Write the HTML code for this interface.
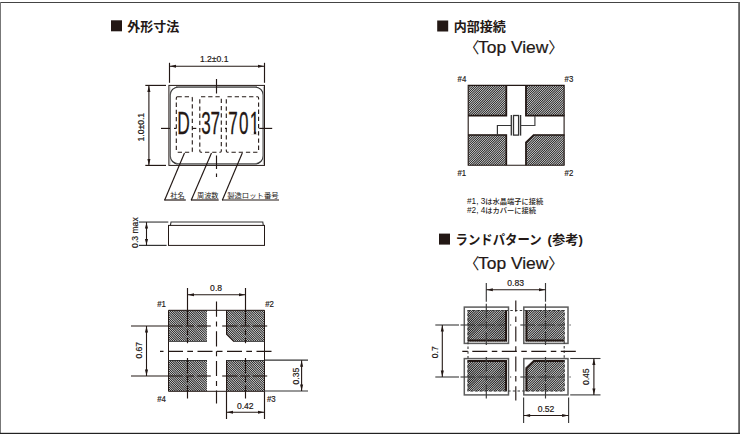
<!DOCTYPE html>
<html lang="ja"><head><meta charset="utf-8"><title>外形寸法</title>
<style>html,body{margin:0;padding:0;background:#fff;overflow:hidden}svg{display:block}text{font-kerning:normal}</style></head>
<body>
<svg width="740" height="434" viewBox="0 0 740 434"><defs><clipPath id="h1"><path d="M168 310H207V341.5H168Z"/></clipPath><clipPath id="h2"><path d="M226.3 310H265V341.5H234.0L226.3 334.0Z"/></clipPath><clipPath id="h3"><path d="M168 360H207V391.3H168Z"/></clipPath><clipPath id="h4"><path d="M226.3 360H265V391.3H226.3Z"/></clipPath><clipPath id="h5"><path d="M468 85.3H506.5V115.8H468Z"/></clipPath><clipPath id="h6"><path d="M525.5 85.3H564.5V115.8H525.5Z"/></clipPath><clipPath id="h7"><path d="M468 134.8H506.5V165.3H468Z"/></clipPath><clipPath id="h8"><path d="M533.5 134.8H564.5V165.3H525.5V142.3Z"/></clipPath><clipPath id="h9"><path d="M467.6 310H507V341.5H467.6Z"/></clipPath><clipPath id="h10"><path d="M525.5 310H564.5V341.5H525.5Z"/></clipPath><clipPath id="h11"><path d="M467.6 360H507V391.2H467.6Z"/></clipPath><clipPath id="h12"><path d="M533.5 360H564.5V391.2H525.5V367.5Z"/></clipPath></defs>
<rect x="0" y="0" width="740" height="434" fill="#fff"/>
<rect x="0" y="2" width="740" height="1" fill="#444"/>
<rect x="0" y="2" width="1" height="432" fill="#777"/>
<rect x="738.2" y="2" width="1.8" height="432" fill="#606060"/>
<rect x="0" y="432.8" width="740" height="1.2" fill="#222"/>
<rect x="111" y="20.3" width="11" height="11" fill="#231815"/>
<text x="127.3" y="31" font-family='"Liberation Sans","Noto Sans CJK JP",sans-serif' font-size="13" font-weight="bold" text-anchor="start" fill="#231815">外形寸法</text>
<rect x="437.2" y="20.5" width="11" height="11" fill="#231815"/>
<text x="453.8" y="31" font-family='"Liberation Sans","Noto Sans CJK JP",sans-serif' font-size="13" font-weight="bold" text-anchor="start" fill="#231815">内部接続</text>
<rect x="439" y="233.6" width="11" height="11" fill="#231815"/>
<text y="244" font-family='"Liberation Sans","Noto Sans CJK JP",sans-serif' font-size="13" font-weight="bold" fill="#231815"><tspan x="455.6" textLength="86" lengthAdjust="spacingAndGlyphs">ランドパターン</tspan><tspan x="543.9" textLength="39.1" lengthAdjust="spacingAndGlyphs"> (参考)</tspan></text>
<text y="52.9" font-family='"Liberation Sans","Noto Sans CJK JP",sans-serif' font-size="15.6" fill="#231815"><tspan x="463.8">〈</tspan><tspan x="478.0" textLength="70.4" lengthAdjust="spacingAndGlyphs" stroke="#231815" stroke-width="0.2">Top View</tspan><tspan x="548.2">〉</tspan></text>
<text y="268.9" font-family='"Liberation Sans","Noto Sans CJK JP",sans-serif' font-size="15.6" fill="#231815"><tspan x="463.8">〈</tspan><tspan x="478.0" textLength="70.4" lengthAdjust="spacingAndGlyphs" stroke="#231815" stroke-width="0.2">Top View</tspan><tspan x="548.2">〉</tspan></text>
<line x1="169.5" y1="62.8" x2="169.5" y2="82.8" stroke="#231815" stroke-width="1.15"/>
<line x1="264.5" y1="62.8" x2="264.5" y2="82.8" stroke="#231815" stroke-width="1.15"/>
<line x1="169.5" y1="66.3" x2="264.5" y2="66.3" stroke="#231815" stroke-width="1.1"/>
<polygon points="169.80,66.30 176.00,64.75 176.00,67.85" fill="#231815"/>
<polygon points="264.20,66.30 258.00,64.75 258.00,67.85" fill="#231815"/>
<text x="214.2" y="61.7" font-family='"Liberation Sans","Noto Sans CJK JP",sans-serif' font-size="8.6" font-weight="normal" text-anchor="middle" fill="#231815" stroke="#231815" stroke-width="0.18">1.2±0.1</text>
<line x1="145.3" y1="85.4" x2="166" y2="85.4" stroke="#231815" stroke-width="1.15"/>
<line x1="145.3" y1="165.4" x2="166" y2="165.4" stroke="#231815" stroke-width="1.15"/>
<line x1="148.9" y1="85.4" x2="148.9" y2="165.4" stroke="#231815" stroke-width="1.1"/>
<polygon points="148.90,85.70 147.35,91.90 150.45,91.90" fill="#231815"/>
<polygon points="148.90,165.10 147.35,158.90 150.45,158.90" fill="#231815"/>
<text x="144.4" y="127.2" font-family='"Liberation Sans","Noto Sans CJK JP",sans-serif' font-size="8.6" font-weight="normal" text-anchor="middle" fill="#231815" stroke="#231815" stroke-width="0.18" transform="rotate(-90 144.4 127.2)">1.0±0.1</text>
<rect x="168.9" y="85.4" width="95.6" height="80" fill="none" stroke="#231815" stroke-width="1"/>
<rect x="170.2" y="87" width="93" height="76.8" rx="8" ry="8" fill="none" stroke="#333" stroke-width="1.25"/>
<line x1="169.9" y1="86.5" x2="169.9" y2="164.5" stroke="#999" stroke-width="0.8"/>
<line x1="263.4" y1="86.5" x2="263.4" y2="164.5" stroke="#999" stroke-width="0.8"/>
<line x1="176" y1="86.6" x2="257" y2="86.6" stroke="#888" stroke-width="1.2"/>
<line x1="176" y1="164.2" x2="257" y2="164.2" stroke="#888" stroke-width="1.2"/>
<line x1="216.5" y1="79" x2="216.5" y2="93.5" stroke="#231815" stroke-width="1.15"/>
<line x1="216.5" y1="155.5" x2="216.5" y2="169" stroke="#231815" stroke-width="1.15"/>
<line x1="216.5" y1="173.5" x2="216.5" y2="177" stroke="#231815" stroke-width="1.15"/>
<line x1="161" y1="128.4" x2="170" y2="128.4" stroke="#231815" stroke-width="1.15"/>
<line x1="259.2" y1="128.4" x2="272.2" y2="128.4" stroke="#231815" stroke-width="1.15"/>
<line x1="174" y1="128.4" x2="176.3" y2="128.4" stroke="#231815" stroke-width="1.15"/>
<line x1="192" y1="128.4" x2="196.3" y2="128.4" stroke="#231815" stroke-width="1.15"/>
<line x1="225" y1="128.4" x2="227" y2="128.4" stroke="#231815" stroke-width="1.15"/>
<rect x="176.3" y="96.8" width="16.0" height="55.5" rx="1.2" fill="none" stroke="#231815" stroke-width="1.1" stroke-dasharray="4.3 2.9"/>
<rect x="199.8" y="96.8" width="21.5" height="55.5" rx="1.2" fill="none" stroke="#231815" stroke-width="1.1" stroke-dasharray="4.3 2.9"/>
<rect x="226.3" y="96.8" width="32.30000000000001" height="55.5" rx="1.2" fill="none" stroke="#231815" stroke-width="1.1" stroke-dasharray="4.3 2.9"/>
<text transform="translate(177.3 133.9) scale(0.56 1)" font-family='"Liberation Sans",sans-serif' font-size="31" letter-spacing="0" fill="#231815" stroke="#231815" stroke-width="0.3" stroke-linejoin="round">D</text>
<text transform="translate(201.2 133.9) scale(0.55 1)" font-family='"Liberation Sans",sans-serif' font-size="31" letter-spacing="-0.4" fill="#231815" stroke="#231815" stroke-width="0.3" stroke-linejoin="round">37</text>
<text transform="translate(228.2 133.9) scale(0.55 1)" font-family='"Liberation Sans",sans-serif' font-size="31" letter-spacing="2.3" fill="#231815" stroke="#231815" stroke-width="0.3" stroke-linejoin="round">701</text>
<rect x="250.2" y="130.3" width="3.6" height="4.2" fill="#fff"/>
<rect x="256.2" y="130.3" width="1.75" height="4.2" fill="#fff"/>
<line x1="184.5" y1="153" x2="164.6" y2="200.2" stroke="#231815" stroke-width="1.15"/>
<line x1="164.29999999999998" y1="200.0" x2="185.8" y2="200.0" stroke="#231815" stroke-width="1.2"/>
<line x1="211.5" y1="153" x2="191.2" y2="200.2" stroke="#231815" stroke-width="1.15"/>
<line x1="190.89999999999998" y1="200.0" x2="218.7" y2="200.0" stroke="#231815" stroke-width="1.2"/>
<line x1="242.3" y1="153" x2="222.3" y2="200.2" stroke="#231815" stroke-width="1.15"/>
<line x1="222.0" y1="200.0" x2="279" y2="200.0" stroke="#231815" stroke-width="1.2"/>
<text x="170.2" y="197.9" font-family='"Liberation Sans","Noto Sans CJK JP",sans-serif' font-size="7.2" font-weight="normal" text-anchor="start" fill="#231815" textLength="14.4" lengthAdjust="spacingAndGlyphs">社名</text>
<text x="197" y="197.9" font-family='"Liberation Sans","Noto Sans CJK JP",sans-serif' font-size="7.2" font-weight="normal" text-anchor="start" fill="#231815" textLength="21.4" lengthAdjust="spacingAndGlyphs">周波数</text>
<text x="227.2" y="197.9" font-family='"Liberation Sans","Noto Sans CJK JP",sans-serif' font-size="7.2" font-weight="normal" text-anchor="start" fill="#231815" textLength="51.4" lengthAdjust="spacingAndGlyphs">製造ロット番号</text>
<line x1="139" y1="222.05" x2="168.3" y2="222.05" stroke="#333" stroke-width="1.1"/>
<line x1="139" y1="245.4" x2="166.6" y2="245.4" stroke="#333" stroke-width="1.2"/>
<line x1="146.5" y1="222.1" x2="146.5" y2="245.4" stroke="#231815" stroke-width="1.1"/>
<polygon points="146.50,222.40 144.95,228.60 148.05,228.60" fill="#231815"/>
<polygon points="146.50,245.10 144.95,238.90 148.05,238.90" fill="#231815"/>
<text x="138.0" y="232.6" font-family='"Liberation Sans","Noto Sans CJK JP",sans-serif' font-size="8.6" font-weight="normal" text-anchor="middle" fill="#231815" stroke="#231815" stroke-width="0.18" transform="rotate(-90 138.0 232.6)">0.3 max</text>
<path d="M170.4 225.4L171 222.05H262.8L263.3 225.4" stroke="#333" stroke-width="1.1" fill="none"/>
<rect x="168.5" y="225.4" width="96" height="20" fill="none" stroke="#231815" stroke-width="1"/>
<path d="M168 310H207V341.5H168Z" fill="#fff"/>
<path d="M130.25 308.00h1.32l35.50 35.50h-1.32zM132.50 308.00h1.32l35.50 35.50h-1.32zM134.75 308.00h1.32l35.50 35.50h-1.32zM137.00 308.00h1.32l35.50 35.50h-1.32zM139.25 308.00h1.32l35.50 35.50h-1.32zM141.50 308.00h1.32l35.50 35.50h-1.32zM143.75 308.00h1.32l35.50 35.50h-1.32zM146.00 308.00h1.32l35.50 35.50h-1.32zM148.25 308.00h1.32l35.50 35.50h-1.32zM150.50 308.00h1.32l35.50 35.50h-1.32zM152.75 308.00h1.32l35.50 35.50h-1.32zM155.00 308.00h1.32l35.50 35.50h-1.32zM157.25 308.00h1.32l35.50 35.50h-1.32zM159.50 308.00h1.32l35.50 35.50h-1.32zM161.75 308.00h1.32l35.50 35.50h-1.32zM164.00 308.00h1.32l35.50 35.50h-1.32zM166.25 308.00h1.32l35.50 35.50h-1.32zM168.50 308.00h1.32l35.50 35.50h-1.32zM170.75 308.00h1.32l35.50 35.50h-1.32zM173.00 308.00h1.32l35.50 35.50h-1.32zM175.25 308.00h1.32l35.50 35.50h-1.32zM177.50 308.00h1.32l35.50 35.50h-1.32zM179.75 308.00h1.32l35.50 35.50h-1.32zM182.00 308.00h1.32l35.50 35.50h-1.32zM184.25 308.00h1.32l35.50 35.50h-1.32zM186.50 308.00h1.32l35.50 35.50h-1.32zM188.75 308.00h1.32l35.50 35.50h-1.32zM191.00 308.00h1.32l35.50 35.50h-1.32zM193.25 308.00h1.32l35.50 35.50h-1.32zM195.50 308.00h1.32l35.50 35.50h-1.32zM197.75 308.00h1.32l35.50 35.50h-1.32zM200.00 308.00h1.32l35.50 35.50h-1.32zM202.25 308.00h1.32l35.50 35.50h-1.32zM204.50 308.00h1.32l35.50 35.50h-1.32zM206.75 308.00h1.32l35.50 35.50h-1.32zM209.00 308.00h1.32l35.50 35.50h-1.32z" fill="#111" clip-path="url(#h1)"/>
<path d="M226.3 310H265V341.5H234.0L226.3 334.0Z" fill="#fff"/>
<path d="M188.55 308.00h1.32l35.50 35.50h-1.32zM190.80 308.00h1.32l35.50 35.50h-1.32zM193.05 308.00h1.32l35.50 35.50h-1.32zM195.30 308.00h1.32l35.50 35.50h-1.32zM197.55 308.00h1.32l35.50 35.50h-1.32zM199.80 308.00h1.32l35.50 35.50h-1.32zM202.05 308.00h1.32l35.50 35.50h-1.32zM204.30 308.00h1.32l35.50 35.50h-1.32zM206.55 308.00h1.32l35.50 35.50h-1.32zM208.80 308.00h1.32l35.50 35.50h-1.32zM211.05 308.00h1.32l35.50 35.50h-1.32zM213.30 308.00h1.32l35.50 35.50h-1.32zM215.55 308.00h1.32l35.50 35.50h-1.32zM217.80 308.00h1.32l35.50 35.50h-1.32zM220.05 308.00h1.32l35.50 35.50h-1.32zM222.30 308.00h1.32l35.50 35.50h-1.32zM224.55 308.00h1.32l35.50 35.50h-1.32zM226.80 308.00h1.32l35.50 35.50h-1.32zM229.05 308.00h1.32l35.50 35.50h-1.32zM231.30 308.00h1.32l35.50 35.50h-1.32zM233.55 308.00h1.32l35.50 35.50h-1.32zM235.80 308.00h1.32l35.50 35.50h-1.32zM238.05 308.00h1.32l35.50 35.50h-1.32zM240.30 308.00h1.32l35.50 35.50h-1.32zM242.55 308.00h1.32l35.50 35.50h-1.32zM244.80 308.00h1.32l35.50 35.50h-1.32zM247.05 308.00h1.32l35.50 35.50h-1.32zM249.30 308.00h1.32l35.50 35.50h-1.32zM251.55 308.00h1.32l35.50 35.50h-1.32zM253.80 308.00h1.32l35.50 35.50h-1.32zM256.05 308.00h1.32l35.50 35.50h-1.32zM258.30 308.00h1.32l35.50 35.50h-1.32zM260.55 308.00h1.32l35.50 35.50h-1.32zM262.80 308.00h1.32l35.50 35.50h-1.32zM265.05 308.00h1.32l35.50 35.50h-1.32z" fill="#111" clip-path="url(#h2)"/>
<path d="M168 360H207V391.3H168Z" fill="#fff"/>
<path d="M130.45 358.00h1.32l35.30 35.30h-1.32zM132.70 358.00h1.32l35.30 35.30h-1.32zM134.95 358.00h1.32l35.30 35.30h-1.32zM137.20 358.00h1.32l35.30 35.30h-1.32zM139.45 358.00h1.32l35.30 35.30h-1.32zM141.70 358.00h1.32l35.30 35.30h-1.32zM143.95 358.00h1.32l35.30 35.30h-1.32zM146.20 358.00h1.32l35.30 35.30h-1.32zM148.45 358.00h1.32l35.30 35.30h-1.32zM150.70 358.00h1.32l35.30 35.30h-1.32zM152.95 358.00h1.32l35.30 35.30h-1.32zM155.20 358.00h1.32l35.30 35.30h-1.32zM157.45 358.00h1.32l35.30 35.30h-1.32zM159.70 358.00h1.32l35.30 35.30h-1.32zM161.95 358.00h1.32l35.30 35.30h-1.32zM164.20 358.00h1.32l35.30 35.30h-1.32zM166.45 358.00h1.32l35.30 35.30h-1.32zM168.70 358.00h1.32l35.30 35.30h-1.32zM170.95 358.00h1.32l35.30 35.30h-1.32zM173.20 358.00h1.32l35.30 35.30h-1.32zM175.45 358.00h1.32l35.30 35.30h-1.32zM177.70 358.00h1.32l35.30 35.30h-1.32zM179.95 358.00h1.32l35.30 35.30h-1.32zM182.20 358.00h1.32l35.30 35.30h-1.32zM184.45 358.00h1.32l35.30 35.30h-1.32zM186.70 358.00h1.32l35.30 35.30h-1.32zM188.95 358.00h1.32l35.30 35.30h-1.32zM191.20 358.00h1.32l35.30 35.30h-1.32zM193.45 358.00h1.32l35.30 35.30h-1.32zM195.70 358.00h1.32l35.30 35.30h-1.32zM197.95 358.00h1.32l35.30 35.30h-1.32zM200.20 358.00h1.32l35.30 35.30h-1.32zM202.45 358.00h1.32l35.30 35.30h-1.32zM204.70 358.00h1.32l35.30 35.30h-1.32zM206.95 358.00h1.32l35.30 35.30h-1.32zM209.20 358.00h1.32l35.30 35.30h-1.32z" fill="#111" clip-path="url(#h3)"/>
<path d="M226.3 360H265V391.3H226.3Z" fill="#fff"/>
<path d="M188.75 358.00h1.32l35.30 35.30h-1.32zM191.00 358.00h1.32l35.30 35.30h-1.32zM193.25 358.00h1.32l35.30 35.30h-1.32zM195.50 358.00h1.32l35.30 35.30h-1.32zM197.75 358.00h1.32l35.30 35.30h-1.32zM200.00 358.00h1.32l35.30 35.30h-1.32zM202.25 358.00h1.32l35.30 35.30h-1.32zM204.50 358.00h1.32l35.30 35.30h-1.32zM206.75 358.00h1.32l35.30 35.30h-1.32zM209.00 358.00h1.32l35.30 35.30h-1.32zM211.25 358.00h1.32l35.30 35.30h-1.32zM213.50 358.00h1.32l35.30 35.30h-1.32zM215.75 358.00h1.32l35.30 35.30h-1.32zM218.00 358.00h1.32l35.30 35.30h-1.32zM220.25 358.00h1.32l35.30 35.30h-1.32zM222.50 358.00h1.32l35.30 35.30h-1.32zM224.75 358.00h1.32l35.30 35.30h-1.32zM227.00 358.00h1.32l35.30 35.30h-1.32zM229.25 358.00h1.32l35.30 35.30h-1.32zM231.50 358.00h1.32l35.30 35.30h-1.32zM233.75 358.00h1.32l35.30 35.30h-1.32zM236.00 358.00h1.32l35.30 35.30h-1.32zM238.25 358.00h1.32l35.30 35.30h-1.32zM240.50 358.00h1.32l35.30 35.30h-1.32zM242.75 358.00h1.32l35.30 35.30h-1.32zM245.00 358.00h1.32l35.30 35.30h-1.32zM247.25 358.00h1.32l35.30 35.30h-1.32zM249.50 358.00h1.32l35.30 35.30h-1.32zM251.75 358.00h1.32l35.30 35.30h-1.32zM254.00 358.00h1.32l35.30 35.30h-1.32zM256.25 358.00h1.32l35.30 35.30h-1.32zM258.50 358.00h1.32l35.30 35.30h-1.32zM260.75 358.00h1.32l35.30 35.30h-1.32zM263.00 358.00h1.32l35.30 35.30h-1.32zM265.25 358.00h1.32l35.30 35.30h-1.32z" fill="#111" clip-path="url(#h4)"/>
<path d="M168.5 310.3H264.5V391.3H168.5Z" stroke="#231815" stroke-width="1" fill="none"/>
<path d="M226.6 310.3V334.2L234 341.6" stroke="#231815" stroke-width="1.2" fill="none"/>
<line x1="226.6" y1="360" x2="226.6" y2="391.3" stroke="#231815" stroke-width="1.2"/>
<line x1="168" y1="341.5" x2="207" y2="341.5" stroke="#333" stroke-width="0.8"/>
<line x1="234" y1="341.5" x2="264.5" y2="341.5" stroke="#333" stroke-width="0.8"/>
<line x1="168" y1="360.5" x2="207" y2="360.5" stroke="#333" stroke-width="1"/>
<line x1="226.3" y1="360.5" x2="264.5" y2="360.5" stroke="#333" stroke-width="1"/>
<line x1="265" y1="360.15" x2="308" y2="360.15" stroke="#333" stroke-width="1.2"/>
<line x1="187.5" y1="288" x2="187.5" y2="325.5" stroke="#231815" stroke-width="1.15"/>
<line x1="187.5" y1="329.5" x2="187.5" y2="335" stroke="#231815" stroke-width="1.15"/>
<line x1="187.5" y1="338" x2="187.5" y2="343.2" stroke="#231815" stroke-width="1.15"/>
<line x1="187.5" y1="358" x2="187.5" y2="373.5" stroke="#231815" stroke-width="1.15"/>
<line x1="187.5" y1="376.5" x2="187.5" y2="382.5" stroke="#231815" stroke-width="1.15"/>
<line x1="187.5" y1="385.5" x2="187.5" y2="398.5" stroke="#231815" stroke-width="1.15"/>
<line x1="245.5" y1="288" x2="245.5" y2="325.5" stroke="#231815" stroke-width="1.15"/>
<line x1="245.5" y1="329.5" x2="245.5" y2="335" stroke="#231815" stroke-width="1.15"/>
<line x1="245.5" y1="338" x2="245.5" y2="343.2" stroke="#231815" stroke-width="1.15"/>
<line x1="245.5" y1="358" x2="245.5" y2="373.5" stroke="#231815" stroke-width="1.15"/>
<line x1="245.5" y1="376.5" x2="245.5" y2="382.5" stroke="#231815" stroke-width="1.15"/>
<line x1="245.5" y1="385.5" x2="245.5" y2="398.5" stroke="#231815" stroke-width="1.15"/>
<line x1="187.5" y1="294.8" x2="245.5" y2="294.8" stroke="#231815" stroke-width="1.1"/>
<polygon points="187.80,294.80 194.00,293.25 194.00,296.35" fill="#231815"/>
<polygon points="245.20,294.80 239.00,293.25 239.00,296.35" fill="#231815"/>
<text x="216.1" y="291" font-family='"Liberation Sans","Noto Sans CJK JP",sans-serif' font-size="8.6" font-weight="normal" text-anchor="middle" fill="#231815" stroke="#231815" stroke-width="0.18">0.8</text>
<line x1="216.5" y1="301.5" x2="216.5" y2="403.5" stroke="#231815" stroke-width="1.15" stroke-dasharray="15.2 4.8 5 4.7"/>
<line x1="160" y1="351.4" x2="271.7" y2="351.4" stroke="#231815" stroke-width="1.15" stroke-dasharray="15 4.3 5.7 4.5" stroke-dashoffset="21.5"/>
<line x1="131" y1="326.0" x2="182.8" y2="326.0" stroke="#231815" stroke-width="1.1"/>
<line x1="185.6" y1="326.0" x2="193.9" y2="326.0" stroke="#231815" stroke-width="1.1"/>
<line x1="197.3" y1="326.0" x2="210.8" y2="326.0" stroke="#231815" stroke-width="1.1"/>
<line x1="222.2" y1="326.0" x2="237.4" y2="326.0" stroke="#231815" stroke-width="1.1"/>
<line x1="240.2" y1="326.0" x2="249.8" y2="326.0" stroke="#231815" stroke-width="1.1"/>
<line x1="252.6" y1="326.0" x2="267.2" y2="326.0" stroke="#231815" stroke-width="1.1"/>
<line x1="131" y1="376.0" x2="182.8" y2="376.0" stroke="#231815" stroke-width="1.1"/>
<line x1="185.6" y1="376.0" x2="193.9" y2="376.0" stroke="#231815" stroke-width="1.1"/>
<line x1="197.3" y1="376.0" x2="210.8" y2="376.0" stroke="#231815" stroke-width="1.1"/>
<line x1="222.2" y1="376.0" x2="237.4" y2="376.0" stroke="#231815" stroke-width="1.1"/>
<line x1="240.2" y1="376.0" x2="249.8" y2="376.0" stroke="#231815" stroke-width="1.1"/>
<line x1="252.6" y1="376.0" x2="267.2" y2="376.0" stroke="#231815" stroke-width="1.1"/>
<line x1="146.5" y1="326" x2="146.5" y2="376" stroke="#231815" stroke-width="1.1"/>
<polygon points="146.50,326.30 144.95,332.50 148.05,332.50" fill="#231815"/>
<polygon points="146.50,375.70 144.95,369.50 148.05,369.50" fill="#231815"/>
<text x="142" y="350.2" font-family='"Liberation Sans","Noto Sans CJK JP",sans-serif' font-size="8.6" font-weight="normal" text-anchor="middle" fill="#231815" stroke="#231815" stroke-width="0.18" transform="rotate(-90 142 350.2)">0.67</text>
<line x1="264.5" y1="391.0" x2="308" y2="391.0" stroke="#333" stroke-width="1.2"/>
<line x1="301.6" y1="360.2" x2="301.6" y2="391.0" stroke="#231815" stroke-width="1.1"/>
<polygon points="301.60,360.50 300.05,366.70 303.15,366.70" fill="#231815"/>
<polygon points="301.60,390.70 300.05,384.50 303.15,384.50" fill="#231815"/>
<text x="298.6" y="376.1" font-family='"Liberation Sans","Noto Sans CJK JP",sans-serif' font-size="8.6" font-weight="normal" text-anchor="middle" fill="#231815" stroke="#231815" stroke-width="0.18" transform="rotate(-90 298.6 376.1)">0.35</text>
<line x1="226.5" y1="391.3" x2="226.5" y2="419" stroke="#231815" stroke-width="1.15"/>
<line x1="264.5" y1="391.3" x2="264.5" y2="419" stroke="#231815" stroke-width="1.15"/>
<line x1="226.5" y1="412.3" x2="264.5" y2="412.3" stroke="#231815" stroke-width="1.1"/>
<polygon points="226.80,412.30 233.00,410.75 233.00,413.85" fill="#231815"/>
<polygon points="264.20,412.30 258.00,410.75 258.00,413.85" fill="#231815"/>
<text x="245.3" y="408.7" font-family='"Liberation Sans","Noto Sans CJK JP",sans-serif' font-size="8.6" font-weight="normal" text-anchor="middle" fill="#231815" stroke="#231815" stroke-width="0.18">0.42</text>
<text x="157.2" y="306.9" font-family='"Liberation Sans","Noto Sans CJK JP",sans-serif' font-size="8.6" font-weight="normal" text-anchor="start" fill="#231815" stroke="#231815" stroke-width="0.18" textLength="8.7" lengthAdjust="spacingAndGlyphs">#1</text>
<text x="265.2" y="306.9" font-family='"Liberation Sans","Noto Sans CJK JP",sans-serif' font-size="8.6" font-weight="normal" text-anchor="start" fill="#231815" stroke="#231815" stroke-width="0.18" textLength="8.7" lengthAdjust="spacingAndGlyphs">#2</text>
<text x="157.2" y="401.8" font-family='"Liberation Sans","Noto Sans CJK JP",sans-serif' font-size="8.6" font-weight="normal" text-anchor="start" fill="#231815" stroke="#231815" stroke-width="0.18" textLength="8.7" lengthAdjust="spacingAndGlyphs">#4</text>
<text x="266.9" y="401.8" font-family='"Liberation Sans","Noto Sans CJK JP",sans-serif' font-size="8.6" font-weight="normal" text-anchor="start" fill="#231815" stroke="#231815" stroke-width="0.18" textLength="8.7" lengthAdjust="spacingAndGlyphs">#3</text>
<path d="M468 85.3H506.5V115.8H468Z" fill="#fff"/>
<path d="M465.75 83.30h1.32l-34.50 34.50h-1.32zM468.00 83.30h1.32l-34.50 34.50h-1.32zM470.25 83.30h1.32l-34.50 34.50h-1.32zM472.50 83.30h1.32l-34.50 34.50h-1.32zM474.75 83.30h1.32l-34.50 34.50h-1.32zM477.00 83.30h1.32l-34.50 34.50h-1.32zM479.25 83.30h1.32l-34.50 34.50h-1.32zM481.50 83.30h1.32l-34.50 34.50h-1.32zM483.75 83.30h1.32l-34.50 34.50h-1.32zM486.00 83.30h1.32l-34.50 34.50h-1.32zM488.25 83.30h1.32l-34.50 34.50h-1.32zM490.50 83.30h1.32l-34.50 34.50h-1.32zM492.75 83.30h1.32l-34.50 34.50h-1.32zM495.00 83.30h1.32l-34.50 34.50h-1.32zM497.25 83.30h1.32l-34.50 34.50h-1.32zM499.50 83.30h1.32l-34.50 34.50h-1.32zM501.75 83.30h1.32l-34.50 34.50h-1.32zM504.00 83.30h1.32l-34.50 34.50h-1.32zM506.25 83.30h1.32l-34.50 34.50h-1.32zM508.50 83.30h1.32l-34.50 34.50h-1.32zM510.75 83.30h1.32l-34.50 34.50h-1.32zM513.00 83.30h1.32l-34.50 34.50h-1.32zM515.25 83.30h1.32l-34.50 34.50h-1.32zM517.50 83.30h1.32l-34.50 34.50h-1.32zM519.75 83.30h1.32l-34.50 34.50h-1.32zM522.00 83.30h1.32l-34.50 34.50h-1.32zM524.25 83.30h1.32l-34.50 34.50h-1.32zM526.50 83.30h1.32l-34.50 34.50h-1.32zM528.75 83.30h1.32l-34.50 34.50h-1.32zM531.00 83.30h1.32l-34.50 34.50h-1.32zM533.25 83.30h1.32l-34.50 34.50h-1.32zM535.50 83.30h1.32l-34.50 34.50h-1.32zM537.75 83.30h1.32l-34.50 34.50h-1.32zM540.00 83.30h1.32l-34.50 34.50h-1.32zM542.25 83.30h1.32l-34.50 34.50h-1.32z" fill="#111" clip-path="url(#h5)"/>
<path d="M525.5 85.3H564.5V115.8H525.5Z" fill="#fff"/>
<path d="M523.25 83.30h1.32l-34.50 34.50h-1.32zM525.50 83.30h1.32l-34.50 34.50h-1.32zM527.75 83.30h1.32l-34.50 34.50h-1.32zM530.00 83.30h1.32l-34.50 34.50h-1.32zM532.25 83.30h1.32l-34.50 34.50h-1.32zM534.50 83.30h1.32l-34.50 34.50h-1.32zM536.75 83.30h1.32l-34.50 34.50h-1.32zM539.00 83.30h1.32l-34.50 34.50h-1.32zM541.25 83.30h1.32l-34.50 34.50h-1.32zM543.50 83.30h1.32l-34.50 34.50h-1.32zM545.75 83.30h1.32l-34.50 34.50h-1.32zM548.00 83.30h1.32l-34.50 34.50h-1.32zM550.25 83.30h1.32l-34.50 34.50h-1.32zM552.50 83.30h1.32l-34.50 34.50h-1.32zM554.75 83.30h1.32l-34.50 34.50h-1.32zM557.00 83.30h1.32l-34.50 34.50h-1.32zM559.25 83.30h1.32l-34.50 34.50h-1.32zM561.50 83.30h1.32l-34.50 34.50h-1.32zM563.75 83.30h1.32l-34.50 34.50h-1.32zM566.00 83.30h1.32l-34.50 34.50h-1.32zM568.25 83.30h1.32l-34.50 34.50h-1.32zM570.50 83.30h1.32l-34.50 34.50h-1.32zM572.75 83.30h1.32l-34.50 34.50h-1.32zM575.00 83.30h1.32l-34.50 34.50h-1.32zM577.25 83.30h1.32l-34.50 34.50h-1.32zM579.50 83.30h1.32l-34.50 34.50h-1.32zM581.75 83.30h1.32l-34.50 34.50h-1.32zM584.00 83.30h1.32l-34.50 34.50h-1.32zM586.25 83.30h1.32l-34.50 34.50h-1.32zM588.50 83.30h1.32l-34.50 34.50h-1.32zM590.75 83.30h1.32l-34.50 34.50h-1.32zM593.00 83.30h1.32l-34.50 34.50h-1.32zM595.25 83.30h1.32l-34.50 34.50h-1.32zM597.50 83.30h1.32l-34.50 34.50h-1.32zM599.75 83.30h1.32l-34.50 34.50h-1.32z" fill="#111" clip-path="url(#h6)"/>
<path d="M468 134.8H506.5V165.3H468Z" fill="#fff"/>
<path d="M465.75 132.80h1.32l-34.50 34.50h-1.32zM468.00 132.80h1.32l-34.50 34.50h-1.32zM470.25 132.80h1.32l-34.50 34.50h-1.32zM472.50 132.80h1.32l-34.50 34.50h-1.32zM474.75 132.80h1.32l-34.50 34.50h-1.32zM477.00 132.80h1.32l-34.50 34.50h-1.32zM479.25 132.80h1.32l-34.50 34.50h-1.32zM481.50 132.80h1.32l-34.50 34.50h-1.32zM483.75 132.80h1.32l-34.50 34.50h-1.32zM486.00 132.80h1.32l-34.50 34.50h-1.32zM488.25 132.80h1.32l-34.50 34.50h-1.32zM490.50 132.80h1.32l-34.50 34.50h-1.32zM492.75 132.80h1.32l-34.50 34.50h-1.32zM495.00 132.80h1.32l-34.50 34.50h-1.32zM497.25 132.80h1.32l-34.50 34.50h-1.32zM499.50 132.80h1.32l-34.50 34.50h-1.32zM501.75 132.80h1.32l-34.50 34.50h-1.32zM504.00 132.80h1.32l-34.50 34.50h-1.32zM506.25 132.80h1.32l-34.50 34.50h-1.32zM508.50 132.80h1.32l-34.50 34.50h-1.32zM510.75 132.80h1.32l-34.50 34.50h-1.32zM513.00 132.80h1.32l-34.50 34.50h-1.32zM515.25 132.80h1.32l-34.50 34.50h-1.32zM517.50 132.80h1.32l-34.50 34.50h-1.32zM519.75 132.80h1.32l-34.50 34.50h-1.32zM522.00 132.80h1.32l-34.50 34.50h-1.32zM524.25 132.80h1.32l-34.50 34.50h-1.32zM526.50 132.80h1.32l-34.50 34.50h-1.32zM528.75 132.80h1.32l-34.50 34.50h-1.32zM531.00 132.80h1.32l-34.50 34.50h-1.32zM533.25 132.80h1.32l-34.50 34.50h-1.32zM535.50 132.80h1.32l-34.50 34.50h-1.32zM537.75 132.80h1.32l-34.50 34.50h-1.32zM540.00 132.80h1.32l-34.50 34.50h-1.32zM542.25 132.80h1.32l-34.50 34.50h-1.32z" fill="#111" clip-path="url(#h7)"/>
<path d="M533.5 134.8H564.5V165.3H525.5V142.3Z" fill="#fff"/>
<path d="M523.25 132.80h1.32l-34.50 34.50h-1.32zM525.50 132.80h1.32l-34.50 34.50h-1.32zM527.75 132.80h1.32l-34.50 34.50h-1.32zM530.00 132.80h1.32l-34.50 34.50h-1.32zM532.25 132.80h1.32l-34.50 34.50h-1.32zM534.50 132.80h1.32l-34.50 34.50h-1.32zM536.75 132.80h1.32l-34.50 34.50h-1.32zM539.00 132.80h1.32l-34.50 34.50h-1.32zM541.25 132.80h1.32l-34.50 34.50h-1.32zM543.50 132.80h1.32l-34.50 34.50h-1.32zM545.75 132.80h1.32l-34.50 34.50h-1.32zM548.00 132.80h1.32l-34.50 34.50h-1.32zM550.25 132.80h1.32l-34.50 34.50h-1.32zM552.50 132.80h1.32l-34.50 34.50h-1.32zM554.75 132.80h1.32l-34.50 34.50h-1.32zM557.00 132.80h1.32l-34.50 34.50h-1.32zM559.25 132.80h1.32l-34.50 34.50h-1.32zM561.50 132.80h1.32l-34.50 34.50h-1.32zM563.75 132.80h1.32l-34.50 34.50h-1.32zM566.00 132.80h1.32l-34.50 34.50h-1.32zM568.25 132.80h1.32l-34.50 34.50h-1.32zM570.50 132.80h1.32l-34.50 34.50h-1.32zM572.75 132.80h1.32l-34.50 34.50h-1.32zM575.00 132.80h1.32l-34.50 34.50h-1.32zM577.25 132.80h1.32l-34.50 34.50h-1.32zM579.50 132.80h1.32l-34.50 34.50h-1.32zM581.75 132.80h1.32l-34.50 34.50h-1.32zM584.00 132.80h1.32l-34.50 34.50h-1.32zM586.25 132.80h1.32l-34.50 34.50h-1.32zM588.50 132.80h1.32l-34.50 34.50h-1.32zM590.75 132.80h1.32l-34.50 34.50h-1.32zM593.00 132.80h1.32l-34.50 34.50h-1.32zM595.25 132.80h1.32l-34.50 34.50h-1.32zM597.50 132.80h1.32l-34.50 34.50h-1.32zM599.75 132.80h1.32l-34.50 34.50h-1.32z" fill="#111" clip-path="url(#h8)"/>
<path d="M468.2 85.4H564.1V165.3H468.2Z" stroke="#231815" stroke-width="1.1" fill="none"/>
<path d="M468 115.6H506.3V85.4" stroke="#231815" stroke-width="1.8" fill="none"/>
<path d="M564.5 115.6H526V85.4" stroke="#231815" stroke-width="1.8" fill="none"/>
<path d="M468 135H506.3V165.3" stroke="#231815" stroke-width="1.7" fill="none"/>
<path d="M564.5 135H533.6L526 142.3V165.3" stroke="#231815" stroke-width="1.7" fill="none"/>
<path d="M497.4 134.5V125.5H511.3" stroke="#333" stroke-width="1.2" fill="none"/>
<line x1="511.3" y1="115" x2="511.3" y2="135.6" stroke="#333" stroke-width="1.3"/>
<line x1="520.6" y1="115" x2="520.6" y2="135.6" stroke="#333" stroke-width="1.3"/>
<rect x="513.5" y="115.5" width="5.1" height="19.6" fill="none" stroke="#333" stroke-width="1.3"/>
<path d="M520.6 125.5H534.9V116" stroke="#444" stroke-width="1.2" fill="none"/>
<text x="457.6" y="81.7" font-family='"Liberation Sans","Noto Sans CJK JP",sans-serif' font-size="8.6" font-weight="normal" text-anchor="start" fill="#231815" stroke="#231815" stroke-width="0.18" textLength="8.7" lengthAdjust="spacingAndGlyphs">#4</text>
<text x="564.6" y="81.7" font-family='"Liberation Sans","Noto Sans CJK JP",sans-serif' font-size="8.6" font-weight="normal" text-anchor="start" fill="#231815" stroke="#231815" stroke-width="0.18" textLength="8.7" lengthAdjust="spacingAndGlyphs">#3</text>
<text x="457.4" y="175.7" font-family='"Liberation Sans","Noto Sans CJK JP",sans-serif' font-size="8.6" font-weight="normal" text-anchor="start" fill="#231815" stroke="#231815" stroke-width="0.18" textLength="8.7" lengthAdjust="spacingAndGlyphs">#1</text>
<text x="564.6" y="175.7" font-family='"Liberation Sans","Noto Sans CJK JP",sans-serif' font-size="8.6" font-weight="normal" text-anchor="start" fill="#231815" stroke="#231815" stroke-width="0.18" textLength="8.7" lengthAdjust="spacingAndGlyphs">#2</text>
<text x="467" y="204.2" font-family='"Liberation Sans","Noto Sans CJK JP",sans-serif' fill="#231815" font-weight="500"><tspan font-size="8.8" textLength="18.4" lengthAdjust="spacingAndGlyphs">#1, 3</tspan><tspan x="485.3" font-size="7.3" textLength="58.0" lengthAdjust="spacingAndGlyphs">は水晶端子に接続</tspan></text>
<text x="467" y="213.2" font-family='"Liberation Sans","Noto Sans CJK JP",sans-serif' fill="#231815" font-weight="500"><tspan font-size="8.8" textLength="18.4" lengthAdjust="spacingAndGlyphs">#2, 4</tspan><tspan x="485.3" font-size="7.3" textLength="50.8" lengthAdjust="spacingAndGlyphs">はカバーに接続</tspan></text>
<path d="M467.6 310H507V341.5H467.6Z" fill="#fff"/>
<path d="M465.35 308.00h1.32l-35.50 35.50h-1.32zM467.60 308.00h1.32l-35.50 35.50h-1.32zM469.85 308.00h1.32l-35.50 35.50h-1.32zM472.10 308.00h1.32l-35.50 35.50h-1.32zM474.35 308.00h1.32l-35.50 35.50h-1.32zM476.60 308.00h1.32l-35.50 35.50h-1.32zM478.85 308.00h1.32l-35.50 35.50h-1.32zM481.10 308.00h1.32l-35.50 35.50h-1.32zM483.35 308.00h1.32l-35.50 35.50h-1.32zM485.60 308.00h1.32l-35.50 35.50h-1.32zM487.85 308.00h1.32l-35.50 35.50h-1.32zM490.10 308.00h1.32l-35.50 35.50h-1.32zM492.35 308.00h1.32l-35.50 35.50h-1.32zM494.60 308.00h1.32l-35.50 35.50h-1.32zM496.85 308.00h1.32l-35.50 35.50h-1.32zM499.10 308.00h1.32l-35.50 35.50h-1.32zM501.35 308.00h1.32l-35.50 35.50h-1.32zM503.60 308.00h1.32l-35.50 35.50h-1.32zM505.85 308.00h1.32l-35.50 35.50h-1.32zM508.10 308.00h1.32l-35.50 35.50h-1.32zM510.35 308.00h1.32l-35.50 35.50h-1.32zM512.60 308.00h1.32l-35.50 35.50h-1.32zM514.85 308.00h1.32l-35.50 35.50h-1.32zM517.10 308.00h1.32l-35.50 35.50h-1.32zM519.35 308.00h1.32l-35.50 35.50h-1.32zM521.60 308.00h1.32l-35.50 35.50h-1.32zM523.85 308.00h1.32l-35.50 35.50h-1.32zM526.10 308.00h1.32l-35.50 35.50h-1.32zM528.35 308.00h1.32l-35.50 35.50h-1.32zM530.60 308.00h1.32l-35.50 35.50h-1.32zM532.85 308.00h1.32l-35.50 35.50h-1.32zM535.10 308.00h1.32l-35.50 35.50h-1.32zM537.35 308.00h1.32l-35.50 35.50h-1.32zM539.60 308.00h1.32l-35.50 35.50h-1.32zM541.85 308.00h1.32l-35.50 35.50h-1.32zM544.10 308.00h1.32l-35.50 35.50h-1.32z" fill="#111" clip-path="url(#h9)"/>
<path d="M525.5 310H564.5V341.5H525.5Z" fill="#fff"/>
<path d="M523.25 308.00h1.32l-35.50 35.50h-1.32zM525.50 308.00h1.32l-35.50 35.50h-1.32zM527.75 308.00h1.32l-35.50 35.50h-1.32zM530.00 308.00h1.32l-35.50 35.50h-1.32zM532.25 308.00h1.32l-35.50 35.50h-1.32zM534.50 308.00h1.32l-35.50 35.50h-1.32zM536.75 308.00h1.32l-35.50 35.50h-1.32zM539.00 308.00h1.32l-35.50 35.50h-1.32zM541.25 308.00h1.32l-35.50 35.50h-1.32zM543.50 308.00h1.32l-35.50 35.50h-1.32zM545.75 308.00h1.32l-35.50 35.50h-1.32zM548.00 308.00h1.32l-35.50 35.50h-1.32zM550.25 308.00h1.32l-35.50 35.50h-1.32zM552.50 308.00h1.32l-35.50 35.50h-1.32zM554.75 308.00h1.32l-35.50 35.50h-1.32zM557.00 308.00h1.32l-35.50 35.50h-1.32zM559.25 308.00h1.32l-35.50 35.50h-1.32zM561.50 308.00h1.32l-35.50 35.50h-1.32zM563.75 308.00h1.32l-35.50 35.50h-1.32zM566.00 308.00h1.32l-35.50 35.50h-1.32zM568.25 308.00h1.32l-35.50 35.50h-1.32zM570.50 308.00h1.32l-35.50 35.50h-1.32zM572.75 308.00h1.32l-35.50 35.50h-1.32zM575.00 308.00h1.32l-35.50 35.50h-1.32zM577.25 308.00h1.32l-35.50 35.50h-1.32zM579.50 308.00h1.32l-35.50 35.50h-1.32zM581.75 308.00h1.32l-35.50 35.50h-1.32zM584.00 308.00h1.32l-35.50 35.50h-1.32zM586.25 308.00h1.32l-35.50 35.50h-1.32zM588.50 308.00h1.32l-35.50 35.50h-1.32zM590.75 308.00h1.32l-35.50 35.50h-1.32zM593.00 308.00h1.32l-35.50 35.50h-1.32zM595.25 308.00h1.32l-35.50 35.50h-1.32zM597.50 308.00h1.32l-35.50 35.50h-1.32zM599.75 308.00h1.32l-35.50 35.50h-1.32zM602.00 308.00h1.32l-35.50 35.50h-1.32z" fill="#111" clip-path="url(#h10)"/>
<path d="M467.6 360H507V391.2H467.6Z" fill="#fff"/>
<path d="M465.35 358.00h1.32l-35.20 35.20h-1.32zM467.60 358.00h1.32l-35.20 35.20h-1.32zM469.85 358.00h1.32l-35.20 35.20h-1.32zM472.10 358.00h1.32l-35.20 35.20h-1.32zM474.35 358.00h1.32l-35.20 35.20h-1.32zM476.60 358.00h1.32l-35.20 35.20h-1.32zM478.85 358.00h1.32l-35.20 35.20h-1.32zM481.10 358.00h1.32l-35.20 35.20h-1.32zM483.35 358.00h1.32l-35.20 35.20h-1.32zM485.60 358.00h1.32l-35.20 35.20h-1.32zM487.85 358.00h1.32l-35.20 35.20h-1.32zM490.10 358.00h1.32l-35.20 35.20h-1.32zM492.35 358.00h1.32l-35.20 35.20h-1.32zM494.60 358.00h1.32l-35.20 35.20h-1.32zM496.85 358.00h1.32l-35.20 35.20h-1.32zM499.10 358.00h1.32l-35.20 35.20h-1.32zM501.35 358.00h1.32l-35.20 35.20h-1.32zM503.60 358.00h1.32l-35.20 35.20h-1.32zM505.85 358.00h1.32l-35.20 35.20h-1.32zM508.10 358.00h1.32l-35.20 35.20h-1.32zM510.35 358.00h1.32l-35.20 35.20h-1.32zM512.60 358.00h1.32l-35.20 35.20h-1.32zM514.85 358.00h1.32l-35.20 35.20h-1.32zM517.10 358.00h1.32l-35.20 35.20h-1.32zM519.35 358.00h1.32l-35.20 35.20h-1.32zM521.60 358.00h1.32l-35.20 35.20h-1.32zM523.85 358.00h1.32l-35.20 35.20h-1.32zM526.10 358.00h1.32l-35.20 35.20h-1.32zM528.35 358.00h1.32l-35.20 35.20h-1.32zM530.60 358.00h1.32l-35.20 35.20h-1.32zM532.85 358.00h1.32l-35.20 35.20h-1.32zM535.10 358.00h1.32l-35.20 35.20h-1.32zM537.35 358.00h1.32l-35.20 35.20h-1.32zM539.60 358.00h1.32l-35.20 35.20h-1.32zM541.85 358.00h1.32l-35.20 35.20h-1.32zM544.10 358.00h1.32l-35.20 35.20h-1.32z" fill="#111" clip-path="url(#h11)"/>
<path d="M533.5 360H564.5V391.2H525.5V367.5Z" fill="#fff"/>
<path d="M523.25 358.00h1.32l-35.20 35.20h-1.32zM525.50 358.00h1.32l-35.20 35.20h-1.32zM527.75 358.00h1.32l-35.20 35.20h-1.32zM530.00 358.00h1.32l-35.20 35.20h-1.32zM532.25 358.00h1.32l-35.20 35.20h-1.32zM534.50 358.00h1.32l-35.20 35.20h-1.32zM536.75 358.00h1.32l-35.20 35.20h-1.32zM539.00 358.00h1.32l-35.20 35.20h-1.32zM541.25 358.00h1.32l-35.20 35.20h-1.32zM543.50 358.00h1.32l-35.20 35.20h-1.32zM545.75 358.00h1.32l-35.20 35.20h-1.32zM548.00 358.00h1.32l-35.20 35.20h-1.32zM550.25 358.00h1.32l-35.20 35.20h-1.32zM552.50 358.00h1.32l-35.20 35.20h-1.32zM554.75 358.00h1.32l-35.20 35.20h-1.32zM557.00 358.00h1.32l-35.20 35.20h-1.32zM559.25 358.00h1.32l-35.20 35.20h-1.32zM561.50 358.00h1.32l-35.20 35.20h-1.32zM563.75 358.00h1.32l-35.20 35.20h-1.32zM566.00 358.00h1.32l-35.20 35.20h-1.32zM568.25 358.00h1.32l-35.20 35.20h-1.32zM570.50 358.00h1.32l-35.20 35.20h-1.32zM572.75 358.00h1.32l-35.20 35.20h-1.32zM575.00 358.00h1.32l-35.20 35.20h-1.32zM577.25 358.00h1.32l-35.20 35.20h-1.32zM579.50 358.00h1.32l-35.20 35.20h-1.32zM581.75 358.00h1.32l-35.20 35.20h-1.32zM584.00 358.00h1.32l-35.20 35.20h-1.32zM586.25 358.00h1.32l-35.20 35.20h-1.32zM588.50 358.00h1.32l-35.20 35.20h-1.32zM590.75 358.00h1.32l-35.20 35.20h-1.32zM593.00 358.00h1.32l-35.20 35.20h-1.32zM595.25 358.00h1.32l-35.20 35.20h-1.32zM597.50 358.00h1.32l-35.20 35.20h-1.32zM599.75 358.00h1.32l-35.20 35.20h-1.32z" fill="#111" clip-path="url(#h12)"/>
<rect x="464.3" y="307.1" width="44.2" height="36.3" fill="none" stroke="#5c5c5c" stroke-width="1.5"/>
<rect x="523.8" y="307.1" width="44.2" height="36.3" fill="none" stroke="#5c5c5c" stroke-width="1.5"/>
<rect x="464.3" y="358.6" width="44.2" height="36.3" fill="none" stroke="#5c5c5c" stroke-width="1.5"/>
<rect x="523.8" y="358.6" width="44.2" height="36.3" fill="none" stroke="#5c5c5c" stroke-width="1.5"/>
<path d="M506 310V340.6H467.6" stroke="#231815" stroke-width="2" fill="none"/>
<path d="M526.5 310V340.6H564.5" stroke="#231815" stroke-width="2" fill="none"/>
<path d="M467.6 361H506V391.2" stroke="#231815" stroke-width="2" fill="none"/>
<path d="M564.5 361H534L526.5 368.3V391.2" stroke="#231815" stroke-width="2" fill="none"/>
<path d="M468 310.5H564.2V391H468Z" stroke="#3a3a3a" stroke-width="1.1" fill="none" stroke-dasharray="2.5 2.2"/>
<line x1="486.3" y1="283" x2="486.3" y2="301.7" stroke="#3a3a3a" stroke-width="1.15"/>
<line x1="486.3" y1="303.7" x2="486.3" y2="318" stroke="#3a3a3a" stroke-width="1.15"/>
<line x1="486.3" y1="321" x2="486.3" y2="329" stroke="#3a3a3a" stroke-width="1.15"/>
<line x1="486.3" y1="332" x2="486.3" y2="345" stroke="#3a3a3a" stroke-width="1.15"/>
<line x1="486.3" y1="357" x2="486.3" y2="372" stroke="#3a3a3a" stroke-width="1.15"/>
<line x1="486.3" y1="375" x2="486.3" y2="381" stroke="#3a3a3a" stroke-width="1.15"/>
<line x1="486.3" y1="384" x2="486.3" y2="398.5" stroke="#3a3a3a" stroke-width="1.15"/>
<line x1="545.5" y1="283" x2="545.5" y2="301.7" stroke="#3a3a3a" stroke-width="1.15"/>
<line x1="545.5" y1="303.7" x2="545.5" y2="318" stroke="#3a3a3a" stroke-width="1.15"/>
<line x1="545.5" y1="321" x2="545.5" y2="329" stroke="#3a3a3a" stroke-width="1.15"/>
<line x1="545.5" y1="332" x2="545.5" y2="345" stroke="#3a3a3a" stroke-width="1.15"/>
<line x1="545.5" y1="357" x2="545.5" y2="372" stroke="#3a3a3a" stroke-width="1.15"/>
<line x1="545.5" y1="375" x2="545.5" y2="381" stroke="#3a3a3a" stroke-width="1.15"/>
<line x1="545.5" y1="384" x2="545.5" y2="398.5" stroke="#3a3a3a" stroke-width="1.15"/>
<line x1="486.3" y1="289.7" x2="545.5" y2="289.7" stroke="#231815" stroke-width="1.1"/>
<polygon points="486.60,289.70 492.80,288.15 492.80,291.25" fill="#231815"/>
<polygon points="545.20,289.70 539.00,288.15 539.00,291.25" fill="#231815"/>
<text x="515.6" y="285.8" font-family='"Liberation Sans","Noto Sans CJK JP",sans-serif' font-size="8.6" font-weight="normal" text-anchor="middle" fill="#231815" stroke="#231815" stroke-width="0.18">0.83</text>
<line x1="515.8" y1="300.5" x2="515.8" y2="400.5" stroke="#231815" stroke-width="1.15" stroke-dasharray="15 4.6 5.6 4.6" stroke-dashoffset="3.7"/>
<line x1="461.5" y1="351.4" x2="576.5" y2="351.4" stroke="#231815" stroke-width="1.15" stroke-dasharray="15 4.5 5.5 4.5" stroke-dashoffset="18.7"/>
<line x1="435.3" y1="325.0" x2="459" y2="325.0" stroke="#3a3a3a" stroke-width="1.1"/>
<line x1="460.5" y1="325.0" x2="475" y2="325.0" stroke="#3a3a3a" stroke-width="1.1"/>
<line x1="477.5" y1="325.0" x2="495" y2="325.0" stroke="#3a3a3a" stroke-width="1.1"/>
<line x1="497.5" y1="325.0" x2="505.5" y2="325.0" stroke="#3a3a3a" stroke-width="1.1"/>
<line x1="510" y1="325.0" x2="511.2" y2="325.0" stroke="#3a3a3a" stroke-width="1.1"/>
<line x1="520.3" y1="325.0" x2="535" y2="325.0" stroke="#3a3a3a" stroke-width="1.1"/>
<line x1="537.5" y1="325.0" x2="555" y2="325.0" stroke="#3a3a3a" stroke-width="1.1"/>
<line x1="557.5" y1="325.0" x2="565" y2="325.0" stroke="#3a3a3a" stroke-width="1.1"/>
<line x1="569.5" y1="325.0" x2="570.7" y2="325.0" stroke="#3a3a3a" stroke-width="1.1"/>
<line x1="435.3" y1="377.0" x2="459" y2="377.0" stroke="#3a3a3a" stroke-width="1.1"/>
<line x1="460.5" y1="377.0" x2="475" y2="377.0" stroke="#3a3a3a" stroke-width="1.1"/>
<line x1="477.5" y1="377.0" x2="495" y2="377.0" stroke="#3a3a3a" stroke-width="1.1"/>
<line x1="497.5" y1="377.0" x2="505.5" y2="377.0" stroke="#3a3a3a" stroke-width="1.1"/>
<line x1="510" y1="377.0" x2="511.2" y2="377.0" stroke="#3a3a3a" stroke-width="1.1"/>
<line x1="520.3" y1="377.0" x2="535" y2="377.0" stroke="#3a3a3a" stroke-width="1.1"/>
<line x1="537.5" y1="377.0" x2="555" y2="377.0" stroke="#3a3a3a" stroke-width="1.1"/>
<line x1="557.5" y1="377.0" x2="565" y2="377.0" stroke="#3a3a3a" stroke-width="1.1"/>
<line x1="569.5" y1="377.0" x2="570.7" y2="377.0" stroke="#3a3a3a" stroke-width="1.1"/>
<line x1="442.3" y1="325" x2="442.3" y2="377" stroke="#231815" stroke-width="1.1"/>
<polygon points="442.30,325.30 440.75,331.50 443.85,331.50" fill="#231815"/>
<polygon points="442.30,376.70 440.75,370.50 443.85,370.50" fill="#231815"/>
<text x="438.3" y="352.2" font-family='"Liberation Sans","Noto Sans CJK JP",sans-serif' font-size="8.6" font-weight="normal" text-anchor="middle" fill="#231815" stroke="#231815" stroke-width="0.18" transform="rotate(-90 438.3 352.2)">0.7</text>
<line x1="570.2" y1="358.5" x2="600.5" y2="358.5" stroke="#3a3a3a" stroke-width="1.1"/>
<line x1="570.2" y1="394.9" x2="600.5" y2="394.9" stroke="#3a3a3a" stroke-width="1.1"/>
<line x1="593.9" y1="358.5" x2="593.9" y2="394.9" stroke="#231815" stroke-width="1.1"/>
<polygon points="593.90,358.80 592.35,365.00 595.45,365.00" fill="#231815"/>
<polygon points="593.90,394.60 592.35,388.40 595.45,388.40" fill="#231815"/>
<text x="589" y="376.7" font-family='"Liberation Sans","Noto Sans CJK JP",sans-serif' font-size="8.6" font-weight="normal" text-anchor="middle" fill="#231815" stroke="#231815" stroke-width="0.18" transform="rotate(-90 589 376.7)">0.45</text>
<line x1="523.6" y1="397.5" x2="523.6" y2="423" stroke="#3a3a3a" stroke-width="1.15"/>
<line x1="568.6" y1="397.5" x2="568.6" y2="423" stroke="#3a3a3a" stroke-width="1.15"/>
<line x1="523.6" y1="415.5" x2="568.6" y2="415.5" stroke="#231815" stroke-width="1.1"/>
<polygon points="523.90,415.50 530.10,413.95 530.10,417.05" fill="#231815"/>
<polygon points="568.30,415.50 562.10,413.95 562.10,417.05" fill="#231815"/>
<text x="546" y="412.2" font-family='"Liberation Sans","Noto Sans CJK JP",sans-serif' font-size="8.6" font-weight="normal" text-anchor="middle" fill="#231815" stroke="#231815" stroke-width="0.18">0.52</text>
</svg>
</body></html>
